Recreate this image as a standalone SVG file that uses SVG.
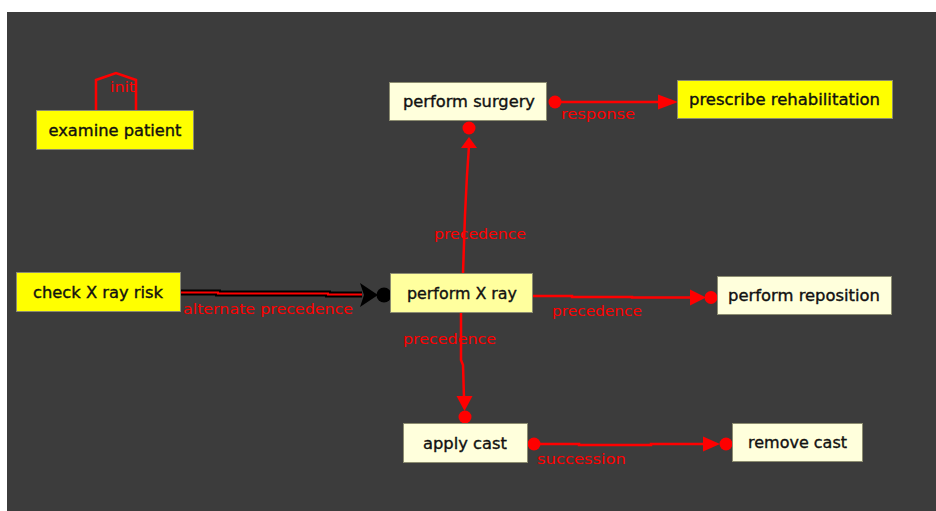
<svg xmlns="http://www.w3.org/2000/svg" width="936" height="511" viewBox="0 0 936 511">
  <defs>
    <style>
      .canvas { fill: #3c3c3c; }
      .node rect { stroke: #8c8c70; stroke-width: 1; }
      .strong rect { fill: #ffff00; }
      .active rect { fill: #ffff9e; }
      .plain rect { fill: #ffffdc; }
      .node text { font-family: "DejaVu Sans", "Liberation Sans", sans-serif; font-size: 15px; fill: #111; stroke: #111; stroke-width: 0.35; text-anchor: middle; dominant-baseline: central; }
      .edge { fill: none; stroke: #ff0000; stroke-width: 2.5; }
      .dot { fill: #ff0000; }
      .head { fill: #ff0000; }
      .lbl { font-family: "DejaVu Sans", "Liberation Sans", sans-serif; font-size: 14px; fill: #ff0000; }
    </style>
  </defs>

  <rect width="936" height="511" fill="#ffffff"/>
  <rect class="canvas" x="7" y="12" width="929" height="499"/>

  <!-- connectors -->
  <g id="connectors">
    <!-- init marker above examine patient -->
    <g id="init">
      <path class="edge" d="M96,110 V80 L116,73 L136,80 V110" stroke-width="2"/>
      <text class="lbl" x="110" y="92" font-size="12" textLength="25" lengthAdjust="spacingAndGlyphs">init</text>
    </g>

    <!-- response: perform surgery -> prescribe rehabilitation -->
    <g id="e-response">
      <line class="edge" x1="555" y1="102" x2="662" y2="102"/>
      <polygon class="head" points="658,94.5 678,102 658,109.5"/>
      <circle class="dot" cx="555" cy="102" r="6.5"/>
      <text class="lbl" x="561" y="119" textLength="74" lengthAdjust="spacingAndGlyphs">response</text>
    </g>

    <!-- precedence: perform X ray -> perform surgery -->
    <g id="e-prec-surgery">
      <polyline class="edge" points="463,273 465,215 467,175 469,146"/>
      <polygon class="head" points="461,148 469,137 477,148"/>
      <circle class="dot" cx="469" cy="128" r="6.5"/>
      <text class="lbl" x="434" y="239" textLength="92" lengthAdjust="spacingAndGlyphs">precedence</text>
    </g>

    <!-- alternate precedence: check X ray risk -> perform X ray -->
    <g id="e-alt-prec">
      <polyline points="181,292.5 218,292.5 218,293.5 328,293.5 328,294.5 362,294.5" fill="none" stroke="#000" stroke-width="6"/>
      <polyline points="181,292.5 218,292.5 218,293.5 328,293.5 328,294.5 362,294.5" fill="none" stroke="#ff0000" stroke-width="2"/>
      <polygon points="360,283 378,295 360,307 364,295" fill="#000"/>
      <circle cx="384" cy="295" r="7.5" fill="#000"/>
      <text class="lbl" x="183" y="314" textLength="170" lengthAdjust="spacingAndGlyphs">alternate precedence</text>
    </g>

    <!-- precedence: perform X ray -> perform reposition -->
    <g id="e-prec-reposition">
      <polyline class="edge" points="533,296 572,296 572,297 632,297 632,297.5 692,297.5"/>
      <polygon class="head" points="690,289.5 706,297.5 690,305.5"/>
      <circle class="dot" cx="711" cy="297.5" r="6.5"/>
      <text class="lbl" x="552" y="316" textLength="90" lengthAdjust="spacingAndGlyphs">precedence</text>
    </g>

    <!-- precedence: perform X ray -> apply cast -->
    <g id="e-prec-cast">
      <polyline class="edge" points="461,313 461,360 463,365 464,398"/>
      <polygon class="head" points="456.5,396 472.5,396 464.5,411"/>
      <circle class="dot" cx="465" cy="417" r="6.5"/>
      <text class="lbl" x="403" y="344" textLength="93" lengthAdjust="spacingAndGlyphs">precedence</text>
    </g>

    <!-- succession: apply cast -> remove cast -->
    <g id="e-succession">
      <polyline class="edge" points="534,444 579,444 579,445 651,445 651,444 705,444"/>
      <polygon class="head" points="703,436.5 720,444 703,451.5"/>
      <circle class="dot" cx="534" cy="444" r="6.5"/>
      <circle class="dot" cx="726" cy="444" r="6.5"/>
      <text class="lbl" x="537" y="464" textLength="89" lengthAdjust="spacingAndGlyphs">succession</text>
    </g>
  </g>

  <!-- activities -->
  <g id="examine-patient" class="node strong">
    <rect x="36.5" y="110.5" width="157" height="39"/>
    <text x="115" y="131" textLength="133" lengthAdjust="spacingAndGlyphs">examine patient</text>
  </g>

  <g id="perform-surgery" class="node plain">
    <rect x="389.5" y="82.5" width="157" height="38"/>
    <text x="469" y="102" textLength="132" lengthAdjust="spacingAndGlyphs">perform surgery</text>
  </g>

  <g id="prescribe-rehabilitation" class="node strong">
    <rect x="677.5" y="80.5" width="215" height="38"/>
    <text x="784.5" y="100" textLength="191" lengthAdjust="spacingAndGlyphs">prescribe rehabilitation</text>
  </g>

  <g id="check-x-ray-risk" class="node strong">
    <rect x="16.5" y="272.5" width="164" height="39"/>
    <text x="98" y="293" textLength="130" lengthAdjust="spacingAndGlyphs">check X ray risk</text>
  </g>

  <g id="perform-x-ray" class="node active">
    <rect x="390.5" y="273.5" width="142" height="39"/>
    <text x="462" y="294" textLength="110" lengthAdjust="spacingAndGlyphs">perform X ray</text>
  </g>

  <g id="perform-reposition" class="node plain">
    <rect x="717.5" y="276.5" width="174" height="38"/>
    <text x="804" y="296" textLength="152" lengthAdjust="spacingAndGlyphs">perform reposition</text>
  </g>

  <g id="apply-cast" class="node plain">
    <rect x="403.5" y="423.5" width="124" height="39"/>
    <text x="465" y="444" textLength="84" lengthAdjust="spacingAndGlyphs">apply cast</text>
  </g>

  <g id="remove-cast" class="node plain">
    <rect x="732.5" y="423.5" width="130" height="38"/>
    <text x="797.5" y="443" textLength="99" lengthAdjust="spacingAndGlyphs">remove cast</text>
  </g>
</svg>
